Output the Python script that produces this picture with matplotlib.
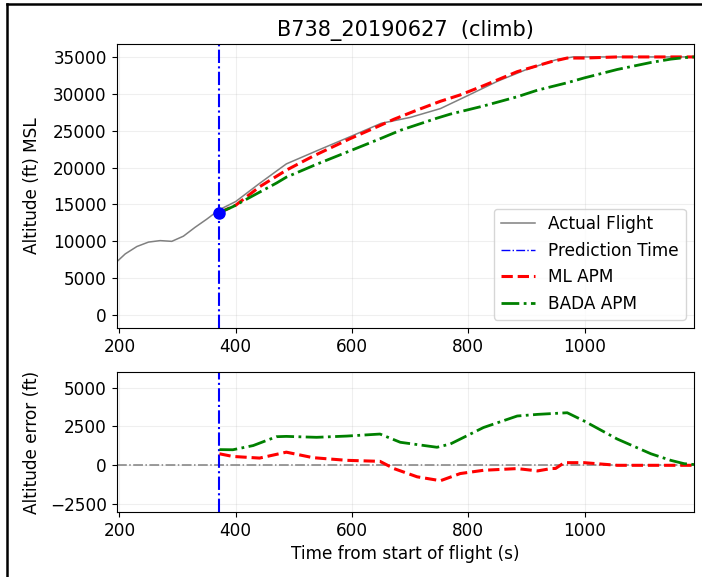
import matplotlib
matplotlib.use("Agg")
import matplotlib.pyplot as plt
from matplotlib.lines import Line2D

# --- data ------------------------------------------------------------------
title = "B738_20190627  (climb)"
pred_time = 372
pred_alt = 13900

actual_t = [195, 210, 230, 250, 270, 290, 310, 330, 350, 372, 400, 440, 487,
            540, 600, 650, 700, 752, 800, 850, 900, 950, 980, 1000, 1100, 1188]
actual_alt = [7200, 8300, 9300, 9900, 10100, 10000, 10700, 11900, 13000, 14300,
              15400, 17800, 20500, 22300, 24300, 26000, 26800, 28000, 29800,
              31700, 33300, 34600, 35000, 35000, 35000, 35000]

ml_t = [372, 400, 441, 487, 533, 596, 648, 672, 712, 752, 786, 826, 884, 942,
        970, 1000, 1056, 1188]
ml_alt = [13900, 14900, 17400, 19650, 21550, 23900, 25700, 26550, 27800, 28990,
          29850, 31100, 33000, 34350, 34850, 34850, 35000, 35000]

bada_t = [372, 395, 430, 470, 487, 539, 596, 648, 683, 746, 769, 826, 884, 919,
          970, 999, 1056, 1114, 1148, 1171, 1188]
bada_alt = [13900, 14700, 16200, 17900, 18700, 20450, 22250, 23900, 25050, 26700,
            27250, 28350, 29600, 30500, 31500, 32150, 33300, 34250, 34700, 34900,
            35000]

ml_err_t = [372, 395, 441, 487, 533, 591, 648, 672, 712, 752, 786, 826, 884,
            919, 942, 950, 965, 999, 1056, 1100, 1188]
ml_err = [740, 570, 465, 845, 490, 320, 255, -210, -740, -990, -530, -320, -210,
          -360, -210, -200, 170, 170, 0, 0, 0]

bada_err_t = [372, 395, 430, 470, 487, 539, 591, 648, 683, 746, 769, 826, 884,
              919, 970, 999, 1056, 1114, 1148, 1171, 1188]
bada_err = [1010, 1000, 1270, 1840, 1860, 1800, 1880, 2010, 1480, 1160, 1370,
            2430, 3170, 3275, 3380, 2850, 1690, 740, 320, 105, 50]

# --- figure -----------------------------------------------------------------
plt.rcParams["font.family"] = "DejaVu Sans"
fs = 12.2

fig = plt.figure(figsize=(7.02, 5.77), dpi=100)
ax1 = fig.add_axes([0.166, 0.4315, 0.8226, 0.4922])
ax2 = fig.add_axes([0.166, 0.1127, 0.8226, 0.2426])

# frame around the figure (only left and top visible in the crop)
fig.add_artist(Line2D([0.0105, 0.0105], [0.0, 0.9925], transform=fig.transFigure,
                      color="black", linewidth=1.8))
fig.add_artist(Line2D([0.0105, 1.0], [0.9925, 0.9925], transform=fig.transFigure,
                      color="black", linewidth=1.8))

# top panel
ax1.plot(actual_t, actual_alt, color="gray", linewidth=1.1, label="Actual Flight")
ax1.axvline(pred_time, color="blue", linestyle="-.", linewidth=1.5,
            label="Prediction Time")
ax1.plot(ml_t, ml_alt, color="red", linestyle="--", linewidth=2.2, label="ML APM")
ax1.plot(bada_t, bada_alt, color="green", linestyle="-.", linewidth=2.0,
         label="BADA APM")
ax1.plot([pred_time], [pred_alt], "o", color="blue", markersize=8)

ax1.set_title(title, fontsize=15, pad=6)
ax1.set_ylabel("Altitude (ft) MSL", fontsize=fs)
ax1.yaxis.set_label_coords(-0.13, 0.5)
ax1.set_xlim(195, 1188)
ax1.set_ylim(-1750, 36750)
ax1.set_xticks([200, 400, 600, 800, 1000])
ax1.set_yticks(range(0, 35001, 5000))
ax1.tick_params(labelsize=fs)
ax1.grid(True, alpha=0.2, linewidth=0.8)
leg = ax1.legend(loc="lower right", fontsize=fs, handlelength=2.0)
leg.get_lines()[1].set_linewidth(1.0)

# bottom panel
ax2.axhline(0, color="gray", linestyle="-.", linewidth=1.1)
ax2.axvline(pred_time, color="blue", linestyle="-.", linewidth=1.5)
ax2.plot(ml_err_t, ml_err, color="red", linestyle="--", linewidth=2.2)
ax2.plot(bada_err_t, bada_err, color="green", linestyle="-.", linewidth=2.0)

ax2.set_xlabel("Time from start of flight (s)", fontsize=fs)
ax2.set_ylabel("Altitude error (ft)", fontsize=fs)
ax2.yaxis.set_label_coords(-0.13, 0.5)
ax2.set_xlim(195, 1188)
ax2.set_ylim(-3000, 6000)
ax2.set_xticks([200, 400, 600, 800, 1000])
ax2.set_yticks([-2500, 0, 2500, 5000])
ax2.tick_params(labelsize=fs)
ax2.grid(True, alpha=0.2, linewidth=0.8)

fig.savefig("out.png", dpi=100)
plt.close(fig)
